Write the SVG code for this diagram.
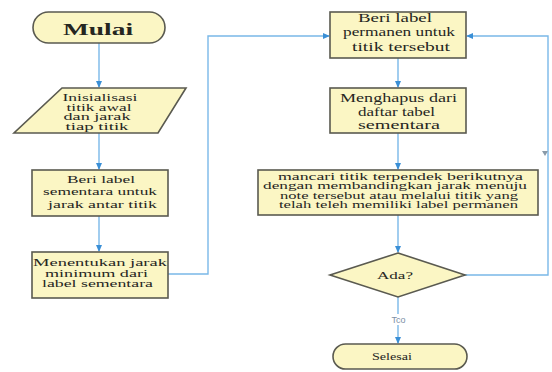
<svg xmlns="http://www.w3.org/2000/svg" width="552" height="372" viewBox="0 0 552 372">
<style>
.n{fill:#fbf6c4;stroke:#5a5a50;stroke-width:1.6}
.t{font-family:"Liberation Serif",serif;fill:#26261f;text-anchor:middle}
.c{fill:none;stroke:#7ab8e8;stroke-width:1.4}
</style>
<defs>
<marker id="a" viewBox="0 0 8 8" refX="7" refY="4" markerWidth="7" markerHeight="7" orient="auto" markerUnits="userSpaceOnUse">
<path d="M0,0.5 L8,4 L0,7.5 z" fill="#3a8fd6"/>
</marker>
</defs>
<rect width="552" height="372" fill="#ffffff"/>
<g id="connectors">
<path class="c" d="M99,43 V87" marker-end="url(#a)"/>
<path class="c" d="M99,133 V169" marker-end="url(#a)"/>
<path class="c" d="M99,216 V251" marker-end="url(#a)"/>
<path class="c" d="M168,274 H208 V36 H329" marker-end="url(#a)"/>
<path class="c" d="M398,58 V87" marker-end="url(#a)"/>
<path class="c" d="M398,133 V169" marker-end="url(#a)"/>
<path class="c" d="M398,215 V252" marker-end="url(#a)"/>
<path class="c" d="M465,275 H548 V36 H467" marker-end="url(#a)"/>
<path class="c" d="M398,297 V343" marker-end="url(#a)"/>
<path d="M542,151 L548,151 L545,156 z" fill="#8a9aa8"/>
<rect x="388" y="314" width="21" height="11" fill="#ffffff"/>
<text x="398.5" y="323" font-family="Liberation Sans,sans-serif" font-size="9" fill="#7d8fa6" text-anchor="middle">Tco</text>
</g>
<g id="mulai">
<rect class="n" x="33" y="12" width="132" height="31" rx="15.5"/>
<text class="t" x="98" y="35" font-size="17" font-weight="bold" textLength="70" lengthAdjust="spacingAndGlyphs">Mulai</text>
</g>
<g id="inisialisasi">
<polygon class="n" points="62,88 186,88 158,133 14,133"/>
<text class="t" x="100" y="101" font-size="9.5" textLength="75" lengthAdjust="spacingAndGlyphs">Inisialisasi</text>
<text class="t" x="99" y="110.5" font-size="9.5" textLength="65" lengthAdjust="spacingAndGlyphs">titik awal</text>
<text class="t" x="97" y="120" font-size="9.5" textLength="67" lengthAdjust="spacingAndGlyphs">dan jarak</text>
<text class="t" x="97" y="129.5" font-size="9.5" textLength="63" lengthAdjust="spacingAndGlyphs">tiap titik</text>
</g>
<g id="label-sementara">
<rect class="n" x="32" y="170" width="136" height="46"/>
<text class="t" x="101" y="182.5" font-size="11" textLength="68" lengthAdjust="spacingAndGlyphs">Beri label</text>
<text class="t" x="100" y="195" font-size="11" textLength="114" lengthAdjust="spacingAndGlyphs">sementara untuk</text>
<text class="t" x="102.5" y="207.5" font-size="11" textLength="109" lengthAdjust="spacingAndGlyphs">jarak antar titik</text>
</g>
<g id="menentukan">
<rect class="n" x="32" y="252" width="136" height="46"/>
<text class="t" x="100" y="266" font-size="10.5" textLength="134" lengthAdjust="spacingAndGlyphs">Menentukan jarak</text>
<text class="t" x="96.5" y="276.5" font-size="10.5" textLength="103" lengthAdjust="spacingAndGlyphs">minimum dari</text>
<text class="t" x="97.5" y="287" font-size="10.5" textLength="111" lengthAdjust="spacingAndGlyphs">label sementara</text>
</g>
<g id="label-permanen">
<rect class="n" x="330" y="12" width="136" height="46"/>
<text class="t" x="395" y="22" font-size="12" textLength="74" lengthAdjust="spacingAndGlyphs">Beri label</text>
<text class="t" x="399" y="36" font-size="12" textLength="112" lengthAdjust="spacingAndGlyphs">permanen untuk</text>
<text class="t" x="401" y="50.5" font-size="12" textLength="98" lengthAdjust="spacingAndGlyphs">titik tersebut</text>
</g>
<g id="menghapus">
<rect class="n" x="330" y="88" width="136" height="45"/>
<text class="t" x="398.5" y="102" font-size="12" textLength="117" lengthAdjust="spacingAndGlyphs">Menghapus dari</text>
<text class="t" x="396.5" y="116" font-size="12" textLength="77" lengthAdjust="spacingAndGlyphs">daftar tabel</text>
<text class="t" x="399" y="129" font-size="12" textLength="82" lengthAdjust="spacingAndGlyphs">sementara</text>
</g>
<g id="mancari">
<rect class="n" x="258" y="170" width="280" height="45"/>
<text class="t" x="400.5" y="179.5" font-size="9.5" textLength="245" lengthAdjust="spacingAndGlyphs">mancari titik terpendek berikutnya</text>
<text class="t" x="395" y="189" font-size="9.5" textLength="264" lengthAdjust="spacingAndGlyphs">dengan membandingkan jarak menuju</text>
<text class="t" x="399" y="198.5" font-size="9.5" textLength="238" lengthAdjust="spacingAndGlyphs">note tersebut atau melalui titik yang</text>
<text class="t" x="398.5" y="208" font-size="9.5" textLength="239" lengthAdjust="spacingAndGlyphs">telah teleh memiliki label permanen</text>
</g>
<g id="ada">
<polygon class="n" points="398,253 465,275 398,297 330,275"/>
<text class="t" x="395" y="278.5" font-size="10" textLength="36" lengthAdjust="spacingAndGlyphs">Ada?</text>
</g>
<g id="selesai">
<rect class="n" x="333" y="344" width="134" height="25" rx="12.5"/>
<text class="t" x="392" y="359.5" font-size="10" textLength="40" lengthAdjust="spacingAndGlyphs">Selesai</text>
</g>
</svg>
